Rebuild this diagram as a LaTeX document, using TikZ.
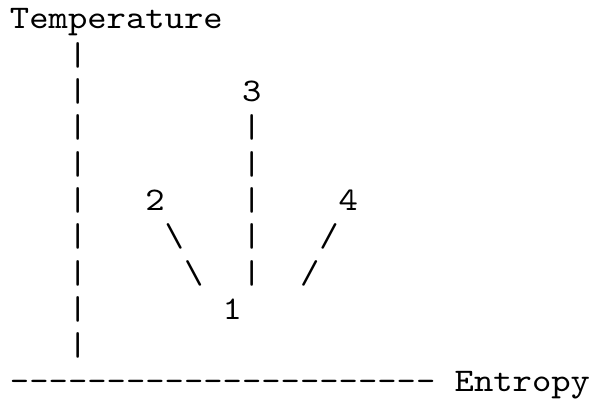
\documentclass[tikz,border=0pt]{standalone}
\usepackage{fontspec}
\setmonofont{lmmono10-regular.otf}[FakeStretch=1.116]
\newcommand{\bs}{\textbackslash}
\begin{document}
\begin{tikzpicture}[x=0.5pt, y=-0.5pt,
  txtrow/.style={anchor=base west, inner sep=0pt, outer sep=0pt, text=black,
    font=\ttfamily\fontsize{16.5pt}{18.15pt}\selectfont}]
\useasboundingbox (0,0) rectangle (589,400);
% one node per line of the plot, baselines 36.3 apart
\node[txtrow] (row0)  at (10,29)    {Temperature};
\node[txtrow] (row1)  at (10,65.3)  {~~~|};
\node[txtrow] (row2)  at (10,101.6) {~~~|~~~~~~~~3};
\node[txtrow] (row3)  at (10,137.9) {~~~|~~~~~~~~|};
\node[txtrow] (row4)  at (10,174.2) {~~~|~~~~~~~~|};
\node[txtrow] (row5)  at (10,210.5) {~~~|~~~2~~~~|~~~~4};
\node[txtrow] (row6)  at (10,246.8) {~~~|~~~~\bs~~~|~~~/};
\node[txtrow] (row7)  at (10,283.1) {~~~|~~~~~\bs~~|~~/};
\node[txtrow] (row8)  at (10,319.4) {~~~|~~~~~~~1};
\node[txtrow] (row9)  at (10,355.7) {~~~|};
\node[txtrow] (row10) at (10,392)   {----------------------~Entropy};
\end{tikzpicture}
\end{document}
